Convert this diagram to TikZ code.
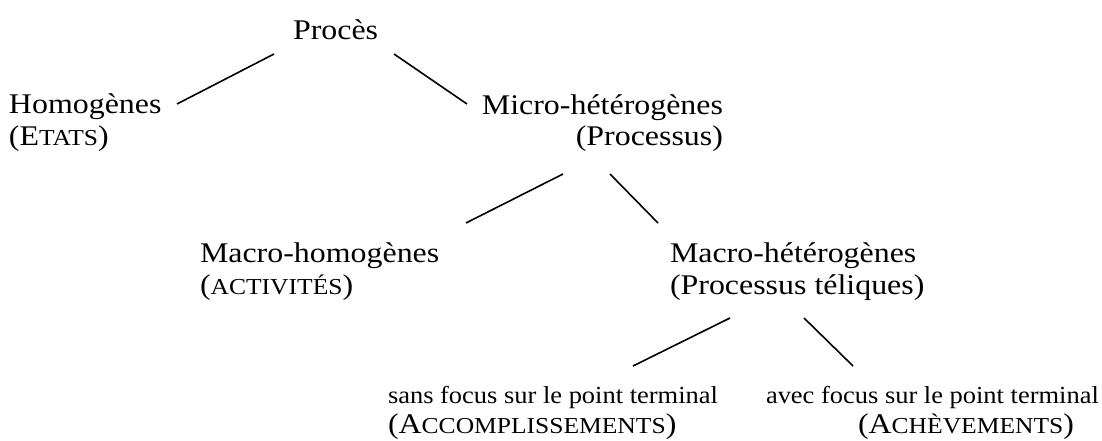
\documentclass[tikz,border=0pt]{standalone}
\usepackage{fontspec}
\setmainfont{Liberation Serif}[FakeStretch=1.12]
\newfontfamily\petit{Liberation Serif}[FakeStretch=1.08]
\usepackage{tikz}
% petites capitales (Word-style)
\newcommand{\pcap}[1]{{\fontsize{22.8}{32}\selectfont #1}}

\begin{document}
\begin{tikzpicture}[x=1pt, y=-1pt,
  label/.style={inner sep=0pt, outer sep=0pt, font=\fontsize{28.5}{32}\selectfont},
  small/.style={inner sep=0pt, outer sep=0pt, font=\petit\fontsize{24.5}{30}\selectfont},
  branch/.style={draw=black, line width=1.6pt}]
  \useasboundingbox (0,0) rectangle (1102,441);

  % (ancre base = ligne du bas)
  \node[label, anchor=base west] (proces) at (293,40) {Procès};
  \node[label, anchor=base west, align=left] (homog) at (9,145) {Homogènes\\(E\pcap{TATS})};
  \node[label, anchor=base east, align=right] (microhet) at (723,146) {Micro-hétérogènes\\(Processus)};
  \node[label, anchor=base west, align=left] (macrohom) at (200,294) {Macro-homogènes\\(\pcap{ACTIVITÉS})};
  \node[label, anchor=base west, align=left] (macrohet) at (670,294) {Macro-hétérogènes\\(Processus téliques)};
  \node[small, anchor=base west, align=left] (sansfocus) at (388,433)
    {sans focus sur le point terminal\\{\rmfamily\fontsize{28.5}{30}\selectfont (A\pcap{CCOMPLISSEMENTS})}};
  \node[small, anchor=base west, align=left] (avecfocus) at (766,433)
    {avec focus sur le point terminal\\\hspace*{92pt}{\rmfamily\fontsize{28.5}{30}\selectfont (A\pcap{CHÈVEMENTS})}};

  % bouts des branches
  \coordinate (proces-l) at (274,54);   \coordinate (homog-r) at (177,104);
  \coordinate (proces-r) at (394,54);   \coordinate (microhet-l) at (467,104);
  \coordinate (microhet-bl) at (563,174); \coordinate (macrohom-r) at (466,223);
  \coordinate (microhet-br) at (610,174); \coordinate (macrohet-l) at (658,223);
  \coordinate (macrohet-bl) at (730,318); \coordinate (sansfocus-t) at (633,366);
  \coordinate (macrohet-br) at (804,318); \coordinate (avecfocus-t) at (853,366);

  \draw[branch] (proces-l) -- (homog-r);
  \draw[branch] (proces-r) -- (microhet-l);
  \draw[branch] (microhet-bl) -- (macrohom-r);
  \draw[branch] (microhet-br) -- (macrohet-l);
  \draw[branch] (macrohet-bl) -- (sansfocus-t);
  \draw[branch] (macrohet-br) -- (avecfocus-t);
\end{tikzpicture}
\end{document}
